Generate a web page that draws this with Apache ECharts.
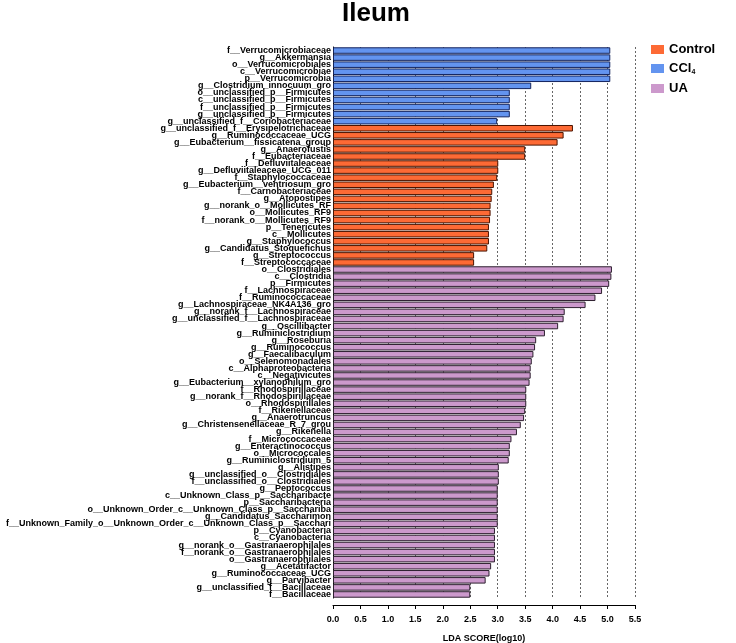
<!DOCTYPE html>
<html>
<head>
<meta charset="utf-8">
<script src="https://cdn.jsdelivr.net/npm/echarts@6/dist/echarts.min.js"></script>
<style>html,body{margin:0;padding:0;background:#fff}#c{width:736px;height:643px}</style>
</head>
<body>
<div id="c"></div>
<script>
const categories = [
"f__Verrucomicrobiaceae","g__Akkermansia","o__Verrucomicrobiales","c__Verrucomicrobiae","p__Verrucomicrobia",
"g__Clostridium_innocuum_gro","o__unclassified_p__Firmicutes","c__unclassified_p__Firmicutes","f__unclassified_p__Firmicutes","g__unclassified_p__Firmicutes",
"g__unclassified_f__Coriobacteriaceae",
"g__unclassified_f__Erysipelotrichaceae","g__Ruminococcaceae_UCG","g__Eubacterium__fissicatena_group","g__Anaerofustis","f__Eubacteriaceae",
"f__Defluviitaleaceae","g__Defluviitaleaceae_UCG_011","f__Staphylococcaceae","g__Eubacterium__ventriosum_gro","f__Carnobacteriaceae",
"g__Atopostipes","g__norank_o__Mollicutes_RF","o__Mollicutes_RF9","f__norank_o__Mollicutes_RF9","p__Tenericutes",
"c__Mollicutes","g__Staphylococcus","g__Candidatus_Stoquefichus","g__Streptococcus","f__Streptococcaceae",
"o__Clostridiales","c__Clostridia","p__Firmicutes","f__Lachnospiraceae","f__Ruminococcaceae",
"g__Lachnospiraceae_NK4A136_gro","g__norank_f__Lachnospiraceae","g__unclassified_f__Lachnospiraceae","g__Oscillibacter","g__Ruminiclostridium",
"g__Roseburia","g__Ruminococcus","g__Faecalibaculum","o__Selenomonadales","c__Alphaproteobacteria",
"c__Negativicutes","g__Eubacterium__xylanophilum_gro","f__Rhodospirillaceae","g__norank_f__Rhodospirillaceae","o__Rhodospirillales",
"f__Rikenellaceae","g__Anaerotruncus","g__Christensenellaceae_R_7_grou","g__Rikenella","f__Micrococcaceae",
"g__Enteractinococcus","o__Micrococcales","g__Ruminiclostridium_5","g__Alistipes","g__unclassified_o__Clostridiales",
"f__unclassified_o__Clostridiales","g__Peptococcus","c__Unknown_Class_p__Saccharibacte","p__Saccharibacteria","o__Unknown_Order_c__Unknown_Class_p__Sacchariba",
"g__Candidatus_Saccharimon","f__Unknown_Family_o__Unknown_Order_c__Unknown_Class_p__Sacchari","p__Cyanobacteria","c__Cyanobacteria","g__norank_o__Gastranaerophilales",
"f__norank_o__Gastranaerophilales","o__Gastranaerophilales","g__Acetatifactor","g__Ruminococcaceae_UCG","g__Parvibacter",
"g__unclassified_f__Bacillaceae","f__Bacillaceae"
];
const ldaScores = [
5.05,5.05,5.05,5.05,5.05,
3.61,3.22,3.22,3.22,3.22,
2.99,
4.37,4.20,4.09,3.50,3.50,
3.01,3.01,2.99,2.93,2.90,
2.89,2.87,2.87,2.86,2.84,
2.84,2.84,2.81,2.57,2.57,
5.08,5.07,5.03,4.90,4.78,
4.60,4.22,4.20,4.10,3.86,
3.70,3.68,3.65,3.62,3.60,
3.60,3.58,3.52,3.52,3.52,
3.50,3.48,3.42,3.35,3.25,
3.22,3.22,3.20,3.02,3.02,
3.02,3.00,3.00,3.00,3.00,
3.00,3.00,2.95,2.95,2.95,
2.95,2.95,2.88,2.85,2.78,
2.50,2.50
];
const groupOf = [
"CCl4","CCl4","CCl4","CCl4","CCl4","CCl4","CCl4","CCl4","CCl4","CCl4","CCl4",
"Control","Control","Control","Control","Control","Control","Control","Control","Control","Control",
"Control","Control","Control","Control","Control","Control","Control","Control","Control","Control",
"UA","UA","UA","UA","UA","UA","UA","UA","UA","UA","UA","UA","UA","UA","UA","UA","UA","UA","UA","UA",
"UA","UA","UA","UA","UA","UA","UA","UA","UA","UA","UA","UA","UA","UA","UA","UA","UA","UA","UA","UA",
"UA","UA","UA","UA","UA","UA","UA"
];
const groupNames = ["Control","CCl4","UA"];
const groupColors = {"Control":"#FD6A35","CCl4":"#6394EF","UA":"#CC99CC"};
const groupBorders = {"Control":"#4a1400","CCl4":"#14245e","UA":"#2e2030"};
const xTicks = {min:0, max:5.5, interval:0.5};

const chart = echarts.init(document.getElementById('c'), null, {renderer:'canvas'});
const FONT = '"Liberation Sans", Arial, sans-serif';
const series = groupNames.map(g => ({
  name: g, type: 'bar', stack: 'all',
  data: ldaScores.map((v,i) => groupOf[i] === g ? v : '-'),
  barCategoryGap: '8%',
  itemStyle: {color: groupColors[g], borderColor: groupBorders[g], borderWidth: 1},
  emphasis: {disabled: true}
}));
chart.setOption({
  animation: false,
  title: {text: 'Ileum', left: 371, top: -4, textAlign: 'center',
    textStyle: {fontFamily: FONT, fontWeight: 'bold', fontSize: 26, color: '#000'}},
  legend: {
    orient: 'vertical', left: 646, top: 38, itemWidth: 13, itemHeight: 9, itemGap: 6,
    icon: 'rect', data: groupNames, itemStyle: {borderWidth: 0},
    formatter: n => n === 'CCl4' ? 'CCl{sub|4}' : n,
    textStyle: {fontFamily: FONT, fontWeight: 'bold', fontSize: 13, color: '#000',
      rich: {sub: {fontFamily: FONT, fontWeight: 'bold', fontSize: 7, padding: [8,0,0,0], color:'#000'}}}
  },
  grid: {left: 333, right: 101, top: 47, bottom: 45, containLabel: false, outerBoundsMode: 'none'},
  xAxis: {
    type: 'value', min: xTicks.min, max: xTicks.max, interval: xTicks.interval,
    offset: 7,
    name: 'LDA SCORE(log10)', nameLocation: 'middle', nameGap: 29,
    nameTextStyle: {fontFamily: FONT, fontWeight: 'bold', fontSize: 9, color: '#000'},
    axisLine: {show: true, lineStyle: {color: '#000', width: 1}},
    axisTick: {show: true, length: 4, lineStyle: {color: '#000'}},
    axisLabel: {fontFamily: FONT, fontWeight: 'bold', fontSize: 9, color: '#000', margin: 10,
      formatter: v => v.toFixed(1)},
    splitLine: {show: true, lineStyle: {color: '#666', type: [2,2], width: 1}}
  },
  yAxis: {
    type: 'category', data: categories, inverse: true,
    axisLine: {show: true, lineStyle: {color: '#000'}},
    axisTick: {show: false},
    axisLabel: {interval: 0, fontFamily: FONT, fontWeight: 'bold', fontSize: 9, color: '#000', margin: 2}
  },
  series: series
});
</script>
</body>
</html>
